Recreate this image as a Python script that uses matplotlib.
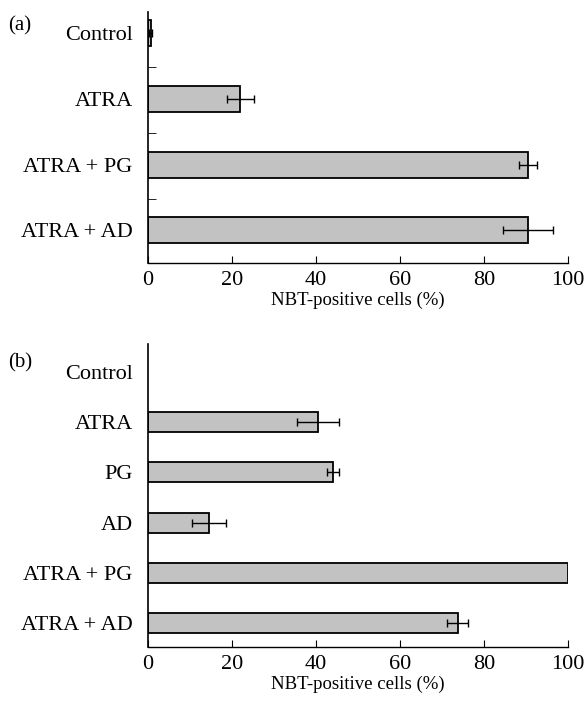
import numpy as np
import matplotlib.pyplot as plt

plt.rcParams['font.family'] = ['Liberation Serif', 'DejaVu Serif']

# panel (a)
cats_a = ['Control', 'ATRA', 'ATRA + PG', 'ATRA + AD']
vals_a = [0.6, 22.0, 90.5, 90.5]
errs_a = [0.3, 3.2, 2.2, 6.0]

# panel (b)
cats_b = ['Control', 'ATRA', 'PG', 'AD', 'ATRA + PG', 'ATRA + AD']
vals_b = [0.0, 40.5, 44.0, 14.5, 100.0, 73.7]
errs_b = [0.0, 5.0, 1.5, 4.0, 0.0, 2.5]

xticks = [0, 20, 40, 60, 80, 100]
xlabel = 'NBT-positive cells (%)'

fig = plt.figure(figsize=(5.85, 7.21), dpi=100)
ax_a = fig.add_axes([0.253, 0.635, 0.718, 0.348])
ax_b = fig.add_axes([0.253, 0.1026, 0.718, 0.4204])

bar_kw = dict(height=0.4, color='#c2c2c2', edgecolor='black', linewidth=1.3)
err_kw = dict(fmt='none', ecolor='black', elinewidth=1.0, capsize=3, capthick=1.0)


def style(ax, ylim):
    for s in ['top', 'right']:
        ax.spines[s].set_visible(False)
    ax.spines['left'].set_linewidth(1.2)
    ax.spines['bottom'].set_linewidth(1.0)
    ax.set_xlim(0, 100)
    ax.set_ylim(*ylim)
    ax.set_xticks(xticks)
    ax.tick_params(axis='x', direction='in', length=5, labelsize=16, pad=6)
    ax.tick_params(axis='y', length=0, labelsize=16, pad=11)
    ax.set_xlabel(xlabel, fontsize=13.5, labelpad=1)


y_a = np.arange(len(cats_a))
ax_a.barh(y_a, vals_a, **bar_kw)
ax_a.errorbar(vals_a, y_a, xerr=errs_a, **err_kw)
ax_a.set_yticks(y_a)
ax_a.set_yticklabels(cats_a)
style(ax_a, (3.5, -0.32))
# small ticks between categories
ax_a.set_yticks(y_a[:-1] + 0.52, minor=True)
ax_a.tick_params(axis='y', which='minor', direction='in', length=6)

y_b = np.arange(len(cats_b))
ax_b.barh(y_b[1:], vals_b[1:], **bar_kw)
ax_b.errorbar(np.array(vals_b)[[1, 2, 3, 5]], y_b[[1, 2, 3, 5]],
              xerr=np.array(errs_b)[[1, 2, 3, 5]], **err_kw)
ax_b.set_yticks(y_b)
ax_b.set_yticklabels(cats_b)
style(ax_b, (5.48, -0.56))

fig.text(0.014, 0.978, '(a)', fontsize=15, va='top')
fig.text(0.014, 0.510, '(b)', fontsize=15, va='top')

fig.savefig('out.png', dpi=100)
